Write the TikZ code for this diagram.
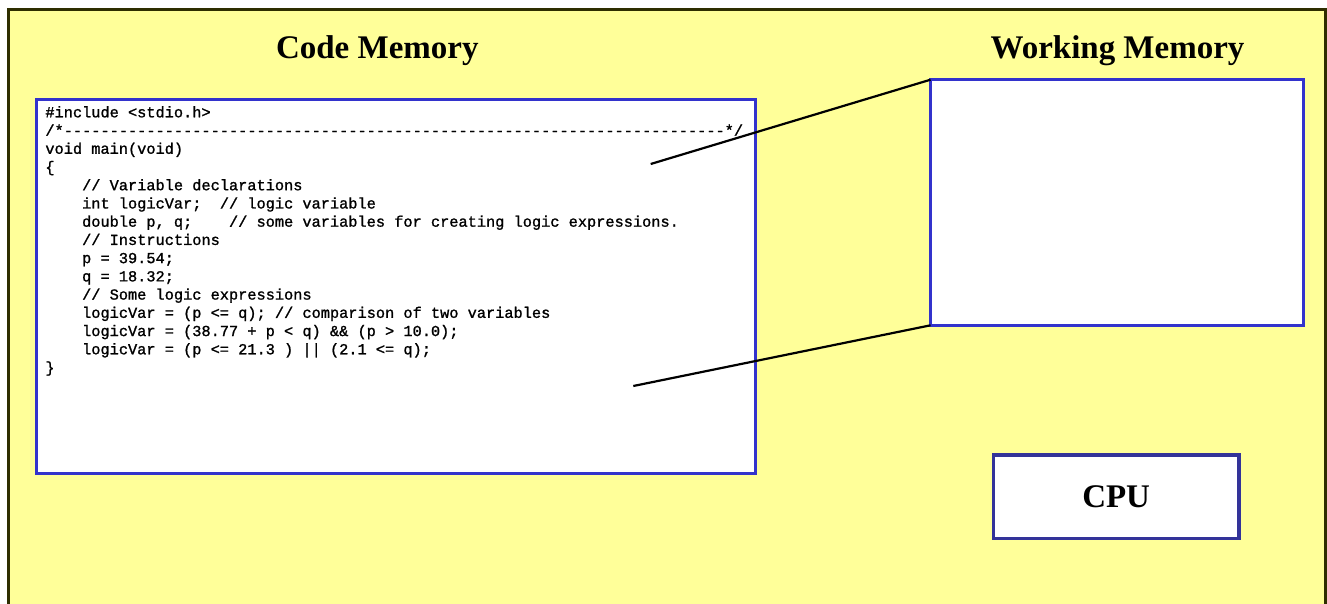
\documentclass[tikz,border=0pt]{standalone}
\usepackage{fontspec}
\setmainfont{Liberation Serif}
\newfontfamily\codefont{Liberation Mono}[FakeBold=1.2]
\definecolor{panelfill}{HTML}{FFFF99}
\definecolor{paneldraw}{HTML}{2E2E00}
\definecolor{boxblue}{HTML}{3333CC}
\definecolor{cpublue}{HTML}{333399}
\newcommand\codeind{\mbox{~~~~}}
\tikzset{
  memtitle/.style={anchor=base, inner sep=0pt, font=\fontsize{33pt}{36pt}\selectfont\bfseries},
  membox/.style={draw=boxblue, fill=white, outer sep=0pt, inner sep=0pt},
  cpubox/.style={draw=cpublue, line width=3.3pt, fill=white, outer sep=0pt, inner sep=0pt,
    font=\fontsize{33pt}{36pt}\selectfont\bfseries},
  conn/.style={draw=black, line width=2.2pt}
}
\begin{document}
\begin{tikzpicture}[x=1pt,y=-1pt]
\useasboundingbox (0,0) rectangle (1327,603);
\clip (0,0) rectangle (1327,603);
\fill[white] (0,0) rectangle (1327,603);
\draw[draw=paneldraw, fill=panelfill, line width=3pt] (8.5,9) rectangle (1325.5,640);
\node[memtitle] (cmtitle) at (377.3,58.3) {Code Memory};
\node[memtitle] (wmtitle) at (1117.5,58.3) {Working Memory};
\node[membox, line width=3pt, minimum width=719.4pt, minimum height=374.5pt] (code) at (396,286.25) {};
\node[anchor=base west, inner sep=0pt] (codetext) at (45.2,117.3) {\parbox[t]{705pt}{\codefont\fontsize{15.3pt}{18.23pt}\selectfont
\#include <stdio.h>\\
/*------------------------------------------------------------------------*/\\
void main(void)\\
\{\\
\codeind// Variable declarations\\
\codeind int logicVar;~~// logic variable\\
\codeind double p, q;~~~~// some variables for creating logic expressions.\\
\codeind// Instructions\\
\codeind p = 39.54;\\
\codeind q = 18.32;\\
\codeind// Some logic expressions\\
\codeind logicVar = (p <= q); // comparison of two variables\\
\codeind logicVar = (38.77 + p < q) \&\& (p > 10.0);\\
\codeind logicVar = (p <= 21.3 ) || (2.1 <= q);\\
\}}};
\node[membox, line width=2.5pt, minimum width=372.8pt, minimum height=245.6pt] (wm) at (1116.9,202.5) {};
\node[cpubox, minimum width=245.7pt, minimum height=83.3pt] (cpu) at (1116.15,496.65) {CPU};
\coordinate (s1) at (650.7,164);
\coordinate (s2) at (633.3,386);
\draw[conn] (s1) -- (wm.north west);
\draw[conn] (s2) -- (wm.south west);
\end{tikzpicture}
\end{document}
